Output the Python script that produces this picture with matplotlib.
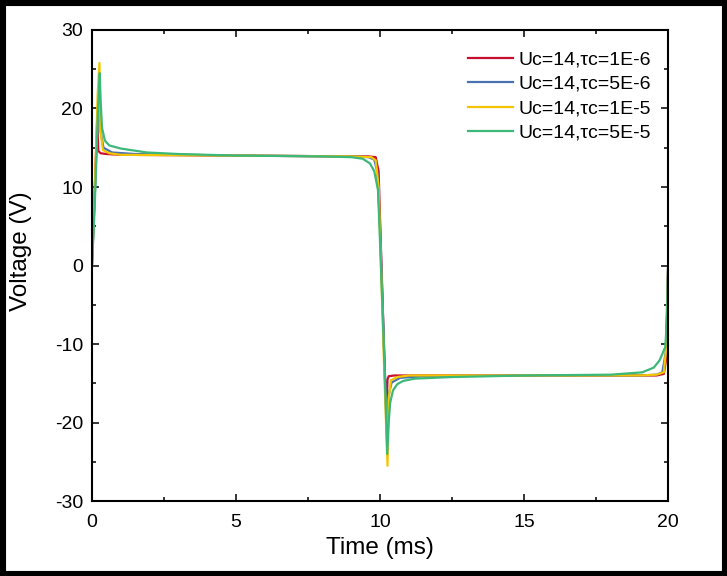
import matplotlib
matplotlib.use('Agg')
import matplotlib.pyplot as plt
from matplotlib.patches import Rectangle
from matplotlib.ticker import MultipleLocator

plt.rcParams['font.family'] = ['Liberation Sans', 'DejaVu Sans']
plt.rcParams['axes.unicode_minus'] = False

# data (time in ms, voltage in V)
t_red = [0, 0.1, 0.18, 0.22, 0.3, 0.5, 1, 5, 9, 9.6, 9.85, 9.95, 10.05, 10.15, 10.22,
         10.26, 10.3, 10.5, 11, 15, 19, 19.6, 19.85, 19.93, 20]
v_red = [0, 10, 18.5, 14.6, 14.3, 14.2, 14.1, 14.0, 13.9, 13.9, 13.8, 12, 0, -12, -19,
         -14.5, -14.1, -14.0, -14.0, -14.0, -14.0, -14.0, -13.8, -12, 0]

t_blue = [0, 0.1, 0.2, 0.26, 0.3, 0.4, 0.7, 1.5, 5, 9, 9.6, 9.8, 9.9, 10.0, 10.1,
          10.2, 10.25, 10.3, 10.4, 10.7, 11.5, 15, 19, 19.6, 19.8, 19.92, 20]
v_blue = [0, 9, 19, 23, 17, 15.0, 14.4, 14.2, 14.0, 13.9, 13.8, 13.5, 12, 5, -6,
          -17, -23, -16.5, -14.9, -14.3, -14.1, -14.0, -14.0, -13.9, -13.6, -11, 0]

t_yel = [0, 0.1, 0.2, 0.26, 0.3, 0.38, 0.6, 1, 5, 9, 9.7, 9.85, 9.95, 10.05, 10.15,
         10.26, 10.3, 10.38, 10.6, 11, 15, 19, 19.6, 19.85, 19.95, 20]
v_yel = [0, 10, 22, 25.8, 17, 14.7, 14.3, 14.1, 14.0, 13.9, 13.8, 13.4, 10, -2, -14,
         -25.5, -17, -14.6, -14.2, -14.0, -14.0, -14.0, -13.9, -13.6, -10, 0]

t_grn = [0, 0.1, 0.2, 0.27, 0.3, 0.35, 0.45, 0.6, 1.0, 1.9, 3, 5, 8, 9, 9.4, 9.65,
         9.8, 9.93, 10.0, 10.1, 10.2, 10.25, 10.3, 10.35, 10.45, 10.6, 10.8, 11.2,
         12.5, 15, 18, 19.1, 19.5, 19.7, 19.9, 19.96, 20]
v_grn = [0, 8, 19, 24.5, 21, 17.5, 15.9, 15.3, 14.9, 14.4, 14.2, 14.0, 13.9, 13.8,
         13.6, 13.0, 12.0, 9.6, 3, -7, -18, -24, -20, -17.5, -15.9, -15.1, -14.7,
         -14.4, -14.2, -14.0, -13.9, -13.6, -13.0, -12.1, -10.4, -7, 0]

labels = ['Uc=14,\u03c4c=1E-6', 'Uc=14,\u03c4c=5E-6',
          'Uc=14,\u03c4c=1E-5', 'Uc=14,\u03c4c=5E-5']

fig = plt.figure(figsize=(7.27, 5.76), dpi=100)
ax = fig.add_axes([0.1265, 0.130, 0.7925, 0.818])

ax.plot(t_red, v_red, color='#c8102e', lw=1.6, label=labels[0])
ax.plot(t_blue, v_blue, color='#4a72b0', lw=1.6, label=labels[1])
ax.plot(t_yel, v_yel, color='#f2c500', lw=1.6, label=labels[2])
ax.plot(t_grn, v_grn, color='#3cb878', lw=1.6, label=labels[3])

ax.set_xlim(0, 20)
ax.set_ylim(-30, 30)
ax.xaxis.set_major_locator(MultipleLocator(5))
ax.xaxis.set_minor_locator(MultipleLocator(2.5))
ax.yaxis.set_major_locator(MultipleLocator(10))
ax.yaxis.set_minor_locator(MultipleLocator(5))
ax.tick_params(which='both', direction='in', top=True, right=True, labelsize=14,
               width=1.1, pad=6.5)
ax.tick_params(axis='x', which='both', pad=9)
ax.tick_params(which='major', length=5)
ax.tick_params(which='minor', length=3)
for s in ax.spines.values():
    s.set_linewidth(1.5)

ax.set_xlabel('Time (ms)', fontsize=17.5)
ax.set_ylabel('Voltage (V)', fontsize=17.5)
ax.xaxis.set_label_coords(0.5, -0.077)
ax.yaxis.set_label_coords(-0.104, 0.531)

ax.legend(loc='upper right', bbox_to_anchor=(0.984, 0.972), frameon=False, fontsize=14,
          handlelength=2.3, handletextpad=0.3, labelspacing=0.35, borderaxespad=0)

# thick black frame around the whole picture
fig.patches.append(Rectangle((0, 0), 1, 1, transform=fig.transFigure,
                             fill=False, edgecolor='black', linewidth=8))

fig.savefig('out.png', dpi=100)
